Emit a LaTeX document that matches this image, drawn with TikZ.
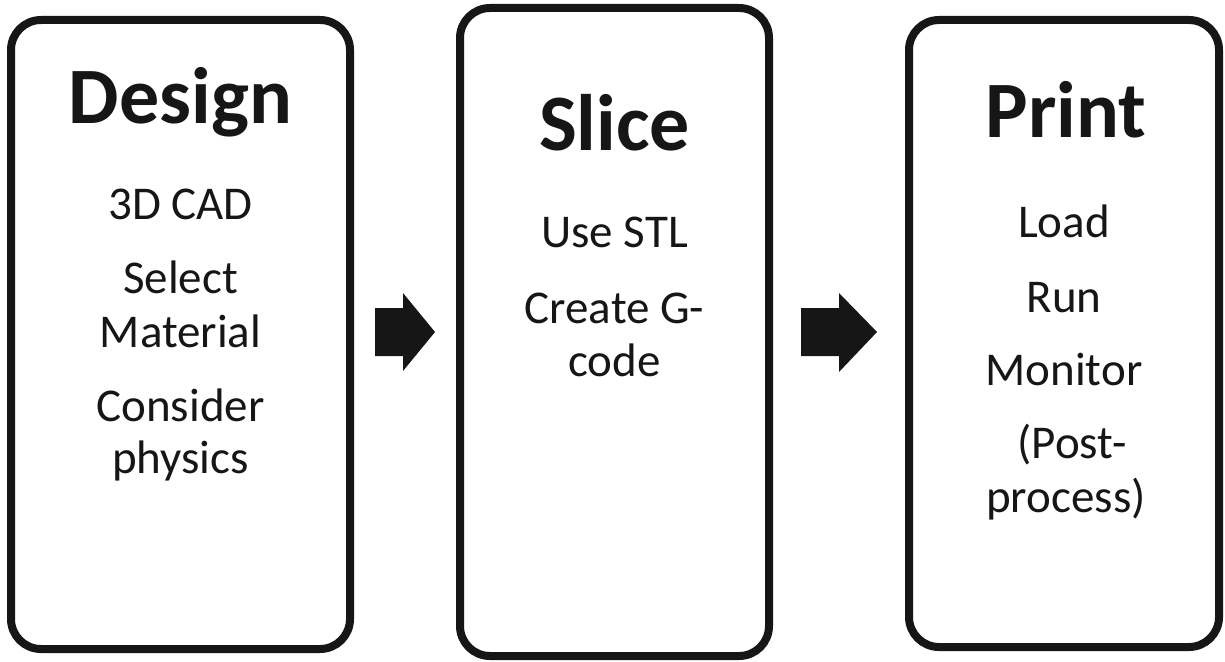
\documentclass[tikz,border=0pt]{standalone}
\usepackage{fontspec}
\setmainfont{Carlito}
\definecolor{ink}{RGB}{22,22,22}
\tikzset{
  stagebox/.style={draw=ink, line width=8pt, rounded corners=30pt, rectangle, inner sep=0pt, fill=white},
  titletext/.style={anchor=base, inner sep=0pt, text=ink, font=\fontsize{80}{80}\selectfont\bfseries},
  itemtext/.style={anchor=base, inner sep=0pt, text=ink, font=\fontsize{47}{47}\selectfont},
  blockarrow/.style={fill=ink, draw=none}
}
\begin{document}
\begin{tikzpicture}[x=1pt,y=-1pt]
\useasboundingbox (0,0) rectangle (1225,661);
% boxes
\node[stagebox, minimum width=339pt, minimum height=629pt] (design) at (180.5,334.5) {};
\node[stagebox, minimum width=309pt, minimum height=648pt] (slice) at (614.5,332) {};
\node[stagebox, minimum width=310pt, minimum height=627pt] (print) at (1064,333.5) {};
% box 1 texts
\node[titletext] (designT) at (180.5,123) {Design};
\node[itemtext] (d1) at (180.5,219) {3D CAD};
\node[itemtext] (d2) at (180.5,293) {Select};
\node[itemtext] (d3) at (180.5,347) {Material};
\node[itemtext] (d4) at (180.5,421) {Consider};
\node[itemtext] (d5) at (180.5,473) {physics};
% box 2 texts
\node[titletext] (sliceT) at (614.5,150) {Slice};
\node[itemtext] (s1) at (614.5,247) {Use STL};
\node[itemtext] (s2) at (614.5,323) {Create G-};
\node[itemtext] (s3) at (614.5,376) {code};
% box 3 texts
\node[titletext] (printT) at (1066,137) {Print};
\node[itemtext] (p1) at (1064,237) {Load};
\node[itemtext] (p2) at (1064,312) {Run};
\node[itemtext] (p3) at (1064,385) {Monitor};
\node[itemtext] (p4) at (1072,458) {(Post-};
\node[itemtext] (p5) at (1066,512) {process)};
% block arrows
\fill[blockarrow] (375,308) -- (403,308) -- (403,293) -- (435,332) -- (403,371) -- (403,356) -- (375,356) -- cycle;
\fill[blockarrow] (801,308) -- (839,308) -- (839,293) -- (877,332) -- (839,372) -- (839,356) -- (801,356) -- cycle;
\end{tikzpicture}
\end{document}
